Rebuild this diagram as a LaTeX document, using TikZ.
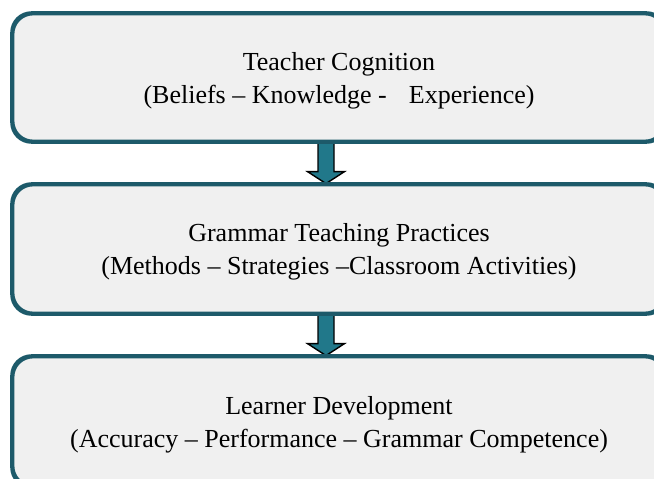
\documentclass[tikz,border=0pt]{standalone}
\usepackage{fontspec}
\setmainfont{Liberation Serif}
\usetikzlibrary{calc}
\definecolor{boxline}{HTML}{1D5A6A}
\definecolor{boxfill}{HTML}{F0F0F0}
\definecolor{arrowfill}{HTML}{21788A}
\tikzset{
  stagebox/.style={draw=boxline, line width=2.8pt, fill=boxfill, rounded corners=20pt,
    rectangle, minimum width=652pt, minimum height=#1, inner sep=0pt},
  stagetext/.style={align=center, font=\fontsize{26pt}{33pt}\selectfont, inner sep=0pt},
  flowarrow/.style={draw=black, line width=1.4pt, fill=arrowfill, line join=miter}
}
\begin{document}
\begin{tikzpicture}[x=1pt,y=-1pt]
  \useasboundingbox (0,0) rectangle (654,479);
  \clip (0,0) rectangle (654,479);

  % stage boxes (right edge runs past the page)
  \node[stagebox=127pt] (b1) at (339,77.5) {};
  \node[stagebox=128pt] (b2) at (339,249) {};
  \node[stagebox=129pt] (b3) at (339,421.5) {};

  % column of the arrows
  \coordinate (ax) at (326,0);

  % block arrows between stages
  \foreach \from/\to in {b1/b2, b2/b3}{
    \draw[flowarrow] let \p1=($(\from.south -| ax)$), \p2=($(\to.north -| ax)$) in
      (\x1-8pt,\y1) -- (\x1-8pt,\y2+12pt) -- (\x1-18.5pt,\y2+12pt) -- (\x1,\y2)
      -- (\x1+18.5pt,\y2+12pt) -- (\x1+8pt,\y2+12pt) -- (\x1+8pt,\y1) -- cycle;
  }

  % redraw the box borders over the arrow ends
  \foreach \b in {b1,b2,b3}{
    \draw[boxline, line width=2.8pt, rounded corners=20pt]
      (\b.south west) rectangle (\b.north east);
  }

  % stage texts
  \node[stagetext, yshift=-3pt] (t1) at (b1)
    {Teacher Cognition\\(Beliefs – Knowledge -\hspace{0.85em}Experience)};
  \node[stagetext, yshift=-3pt] (t2) at (b2)
    {Grammar Teaching Practices\\(Methods – Strategies –Classroom Activities)};
  \node[stagetext, yshift=-3pt] (t3) at (b3)
    {Learner Development\\(Accuracy – Performance – Grammar Competence)};
\end{tikzpicture}
\end{document}
